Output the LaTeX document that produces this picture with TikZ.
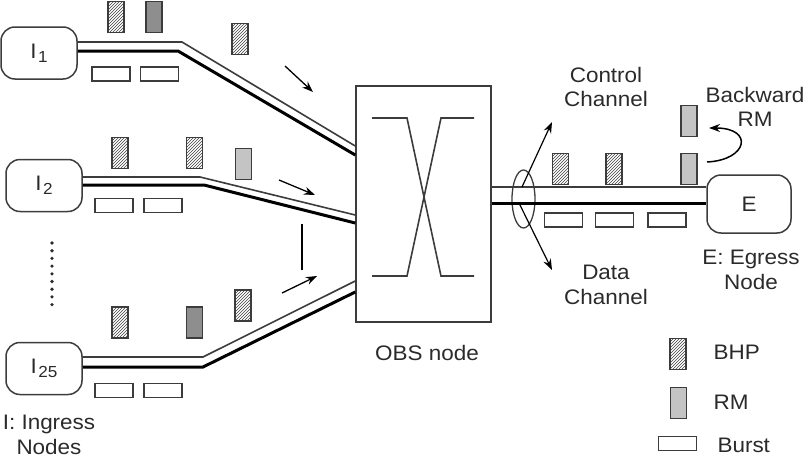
\documentclass[tikz,border=0pt]{standalone}
\usepackage{fontspec}
\setmainfont[FakeStretch=1.07]{Liberation Sans}
\usetikzlibrary{arrows.meta,patterns,shapes.geometric}

\definecolor{linegray}{HTML}{3C3C3C}
\definecolor{txtgray}{HTML}{2A2A2A}
\definecolor{rmlight}{HTML}{C4C4C4}
\definecolor{rmdark}{HTML}{8E8E8E}
\newcommand{\ingress}[1]{I\kern1.5pt\raisebox{-0.2em}{\fontsize{16}{16}\selectfont #1}}

\begin{document}
\begin{tikzpicture}[
    x=1pt, y=-1pt, % pixel grid, y downwards
    every node/.style={text=txtgray, font=\fontsize{21}{24.5}\selectfont},
    endnode/.style={draw=linegray, line width=1.5pt, rounded corners=14pt,
        minimum width=76pt, minimum height=52pt, inner sep=0pt},
    switchbox/.style={draw=linegray, line width=1.5pt, minimum width=135pt,
        minimum height=236pt, inner sep=0pt},
    pkt/.style={draw=linegray, line width=1.1pt, minimum width=16pt,
        minimum height=31pt, inner sep=0pt},
    bhp/.style={pkt, pattern=north east lines, pattern color=darkgray},
    rmlite/.style={pkt, fill=rmlight},
    rmdk/.style={pkt, fill=rmdark},
    burst/.style={draw=linegray, line width=1.1pt, minimum width=38pt,
        minimum height=14pt, inner sep=0pt},
    ctl/.style={draw=linegray, line width=1.6pt},
    dat/.style={draw=black, line width=3pt},
    >={Stealth[length=11pt,width=8pt]}
]
\useasboundingbox (0,0) rectangle (806,463);

% Nodes
\node[endnode] (I1) at (39,53) {\ingress{1}};
\node[endnode] (I2) at (44,185.5) {\ingress{2}};
\node[endnode] (I25) at (44,368.5) {\ingress{25}};
\node[switchbox] (obs) at (423.5,204) {};
\node[endnode, minimum width=84pt, minimum height=58pt] (E) at (749,204) {E};
\node[ellipse, draw=linegray, line width=1.3pt, minimum width=23pt,
    minimum height=58pt, inner sep=0pt] (bundle) at (523.5,199) {};

% Labels
\node (obslabel) at (427,353) {OBS node};
\node[align=center] (ctltext) at (606,87) {Control\\Channel};
\node[align=center] (dattext) at (606,285) {Data\\Channel};
\node[align=center] (bwtext) at (755,107) {Backward\\RM};
\node[align=center] (etext) at (751,270) {E: Egress\\Node};
\node[align=center] (itext) at (49,435) {I: Ingress\\Nodes};

% Packets, ingress 1
\node[bhp] (p11) at (116,17) {};
\node[rmdk] (p12) at (154,17) {};
\node[bhp] (p13) at (240,39) {};
\node[burst] (d11) at (111,74) {};
\node[burst] (d12) at (159.5,74) {};
% Packets, ingress 2
\node[bhp] (p21) at (120,153) {};
\node[bhp] (p22) at (194.5,153) {};
\node[rmlite] (p23) at (243.5,164) {};
\node[burst] (d21) at (114,205.5) {};
\node[burst] (d22) at (163,205.5) {};
% Packets, ingress 25
\node[bhp] (p31) at (120,322.5) {};
\node[rmdk] (p32) at (194.5,322.5) {};
\node[bhp] (p33) at (243,305.5) {};
\node[burst] (d31) at (114,390.5) {};
\node[burst] (d32) at (163,390.5) {};
% Packets, egress
\node[bhp] (q1) at (560.5,169) {};
\node[bhp] (q2) at (614,169) {};
\node[rmlite] (q3) at (689,169) {};
\node[rmlite] (q4) at (689,121) {};
\node[burst] (e1) at (563.5,220) {};
\node[burst] (e2) at (614.5,220) {};
\node[burst] (e3) at (667,220) {};

% Legend
\node[bhp] (kbhp) at (678,354) {};
\node[rmlite] (krm) at (678.5,403) {};
\node[burst] (kburst) at (677.5,443.5) {};
\node[anchor=west] (lbhp) at (710,352) {BHP};
\node[anchor=west] (lrm) at (710,402) {RM};
\node[anchor=west] (lburst) at (714,445) {Burst};

% Fibers
\coordinate (t1) at (182,42);  \coordinate (k1) at (178,51);
\coordinate (t2) at (200,177); \coordinate (k2) at (204,185);
\coordinate (t3) at (203,357); \coordinate (k3) at (203,367);
\draw[ctl] (I1.east |- 0,42) -- (t1) -- (obs.west |- 0,146);
\draw[dat] (I1.east |- 0,51) -- (k1) -- (obs.west |- 0,155);
\draw[ctl] (I2.east |- 0,177) -- (t2) -- (obs.west |- 0,215);
\draw[dat] (I2.east |- 0,185) -- (k2) -- (obs.west |- 0,223);
\draw[ctl] (I25.east |- 0,357) -- (t3) -- (obs.west |- 0,281);
\draw[dat] (I25.east |- 0,367) -- (k3) -- (obs.west |- 0,292);
\draw[ctl] (obs.east |- 0,187) -- (E.west |- 0,187);
\draw[dat] (obs.east |- 0,203) -- (E.west |- 0,203);

% Switch fabric
\draw[ctl] (372,118) -- (407,118) -- (441,276) -- (474,276);
\draw[ctl] (372,276) -- (407,276) -- (441,118) -- (474,118);

% Arrows
\coordinate (a1s) at (285,66);  \coordinate (a1e) at (313,92);
\coordinate (a2s) at (279,180); \coordinate (a2e) at (315,195);
\coordinate (a3s) at (282,293); \coordinate (a3e) at (317,276);
\coordinate (vs) at (302,224);  \coordinate (ve) at (302,270);
\draw[->, line width=1.3pt] (a1s) -- (a1e);
\draw[->, line width=1.3pt] (a2s) -- (a2e);
\draw[->, line width=1.3pt] (a3s) -- (a3e);
\draw[line width=1.3pt] (vs) -- (ve);

\coordinate (cs) at (522,187); \coordinate (ce) at (552,122);
\coordinate (ds) at (519,203); \coordinate (de) at (552,270);
\draw[->, line width=1.2pt] (cs) -- (ce);
\draw[->, line width=1.2pt] (ds) -- (de);

\coordinate (bws) at (707,162); \coordinate (bwe) at (709,128);
\draw[->, line width=1.5pt] (bws) .. controls (748,160) and (754,128) .. (bwe);

% Dots
\foreach \k in {0,...,8}
    \fill[txtgray] (52,243+7.7*\k) circle (1.8);

\end{tikzpicture}
\end{document}
